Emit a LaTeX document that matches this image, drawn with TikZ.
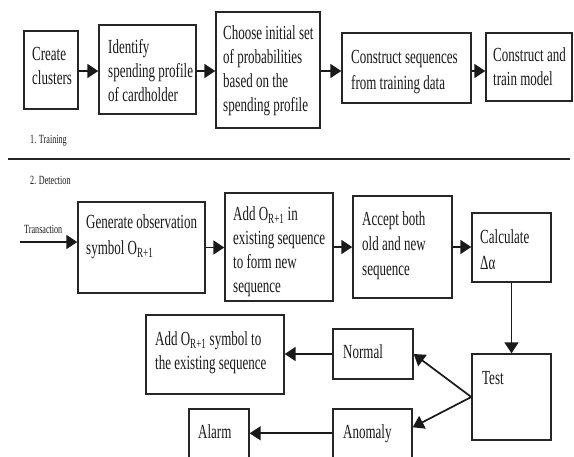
\documentclass[tikz,border=0pt]{standalone}
\usepackage{fontspec}
\setmainfont[FakeStretch=0.65]{Liberation Serif}
\usetikzlibrary{arrows.meta,fit,calc}
\newcommand\bigf{\fontsize{20}{24}\selectfont}
\newcommand\smallf{\fontsize{12.5}{14}\selectfont}
\newcommand\mylines[1]{\begin{tabular}[t]{@{}l@{}}#1\end{tabular}}
\newcommand\OR{O\textsubscript{R+1}}
\begin{document}
\begin{tikzpicture}[x=1pt,y=-1pt,
  box/.style={draw=black!85, line width=1.4pt, inner sep=0pt},
  txt/.style={anchor=base west, inner sep=0pt, font=\bigf, text=black!90},
  stxt/.style={anchor=base west, inner sep=0pt, font=\smallf, text=black!90},
  arr/.style={draw=black!90, line width=1.7pt, -{Triangle[length=11pt,width=14pt]}}]
\useasboundingbox (0,0) rectangle (574,456);
\clip (0,0) rectangle (574,456);
% training boxes
\node[box, fit={(24,31) (78,109)}] (create) {};
\node[box, fit={(99,25) (196,114)}] (ident) {};
\node[box, fit={(216,12) (320,128)}] (choose) {};
\node[box, fit={(342,33) (471,103)}] (cseq) {};
\node[box, fit={(486,33) (572,101)}] (ctrain) {};
\node[txt] (tcreate) at (32,60) {\mylines{Create\\clusters}};
\node[txt] (tident) at (108,53) {\mylines{Identify\\spending profile\\of cardholder}};
\node[txt] (tchoose) at (223,39) {\mylines{Choose initial set\\of probabilities\\based on the\\spending profile}};
\node[txt] (tcseq) at (351,63) {\mylines{Construct sequences\\[2pt]from training data}};
\node[txt] (tctrain) at (493,61) {\mylines{Construct and\\train model}};
\coordinate (row1) at (0,71);
\draw[arr] (create.east |- row1) -- (ident.west |- row1);
\draw[arr] (ident.east |- row1) -- (choose.west |- row1);
\draw[arr] (choose.east |- row1) -- (cseq.west |- row1);
\draw[arr] (cseq.east |- row1) -- (ctrain.west |- row1);
\node[stxt] (ltrain) at (30,143) {1. Training};
% separator
\coordinate (sepL) at (8,159);
\coordinate (sepR) at (570,159);
\draw[black!85, line width=1.9pt] (sepL) -- (sepR);
\node[stxt] (ldetect) at (30,184) {2. Detection};
% detection boxes
\node[box, fit={(78,202) (205,293)}] (gen) {};
\node[box, fit={(225,193) (333,301)}] (addo) {};
\node[box, fit={(353,196) (452,298)}] (accept) {};
\node[box, fit={(472,213) (551,282)}] (calc) {};
\node[box, fit={(146,315) (284,394)}] (addsym) {};
\node[box, fit={(333,329) (413,379)}] (normal) {};
\node[box, fit={(472,354) (551,440)}] (test) {};
\node[box, fit={(189,409) (249,475)}] (alarm) {};
\node[box, fit={(333,409) (412,475)}] (anom) {};
\node[stxt] (ltrans) at (24,233) {Transaction};
\node[txt] (tgen) at (86,228) {\mylines{Generate observation\\[2pt]symbol \OR}};
\node[txt] (taddo) at (233,220) {\mylines{Add \OR{} in\\existing sequence\\to form new\\sequence}};
\node[txt] (taccept) at (362,225) {\mylines{Accept both\\[1pt]old and new\\[1pt]sequence}};
\node[txt] (tcalc) at (480,243) {\mylines{Calculate\\[2pt]Δα}};
\node[txt] (taddsym) at (155,345) {\mylines{Add \OR{} symbol to\\the existing sequence}};
\node[txt] (tnormal) at (343,358) {Normal};
\node[txt] (ttest) at (482,384) {Test};
\node[txt] (talarm) at (198,438) {Alarm};
\node[txt] (tanom) at (343,438) {Anomaly};
% connectors
\coordinate (trans) at (20,242);
\draw[arr] (trans) -- (gen.west |- trans);
\draw[arr] (gen.east) -- (gen.east -| addo.west);
\draw[arr] (addo.east) -- (addo.east -| accept.west);
\draw[arr] (accept.east) -- (accept.east -| calc.west);
\draw[arr] (calc.south) -- (test.north);
\draw[arr] (test.west) -- (normal.east);
\draw[arr] (test.west) -- ([yshift=-19pt]anom.north east);
\draw[arr] (normal.west) -- (normal.west -| addsym.east);
\draw[arr] ([yshift=-25pt]anom.north west) -- ([yshift=-25pt]alarm.north east);
\end{tikzpicture}
\end{document}
